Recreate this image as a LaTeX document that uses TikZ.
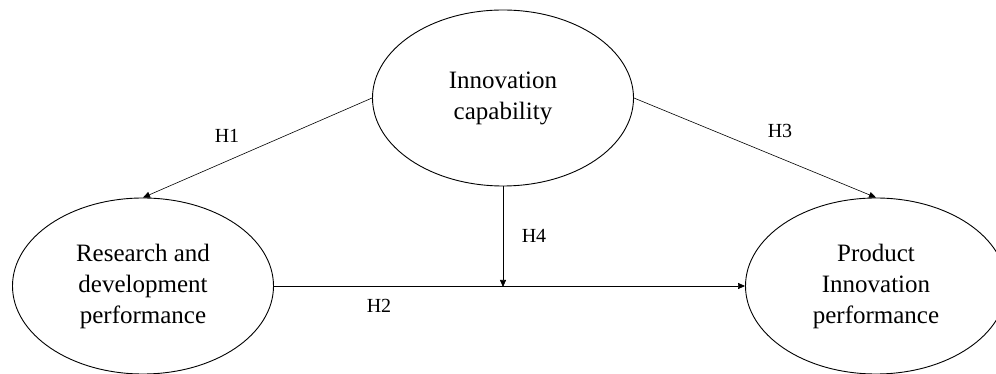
\documentclass[tikz,border=0pt]{standalone}
\usepackage{fontspec}
\setmainfont{Liberation Serif}
\usetikzlibrary{shapes.geometric,arrows.meta}
\begin{document}
\begin{tikzpicture}[x=1pt,y=1pt,
  construct/.style={ellipse,draw,line width=0.9pt,minimum width=261pt,minimum height=176pt,inner sep=0pt,align=center,font=\fontsize{25}{31}\selectfont},
  hyp/.style={font=\fontsize{20}{24}\selectfont,inner sep=0pt},
  link/.style={line width=0.6pt,-{Triangle[length=7pt,width=6pt]}}]
\useasboundingbox (0,0) rectangle (996,374);
\node[construct] (ic) at (503,276) {Innovation\\capability};
\node[construct] (rd) at (143,88) {Research and\\development\\performance};
\node[construct] (pi) at (876,88) {Product\\Innovation\\performance};
\coordinate (mid) at (503,87);
\draw[link] (ic.west) -- (rd.north);
\draw[link] (ic.east) -- (pi.north);
\draw[link] (rd.east) -- (pi.west);
\draw[link] (ic.south) -- (mid);
\node[hyp] (h1) at (227,238) {H1};
\node[hyp] (h2) at (379,68) {H2};
\node[hyp] (h3) at (780,243) {H3};
\node[hyp] (h4) at (534,138) {H4};
\end{tikzpicture}
\end{document}
